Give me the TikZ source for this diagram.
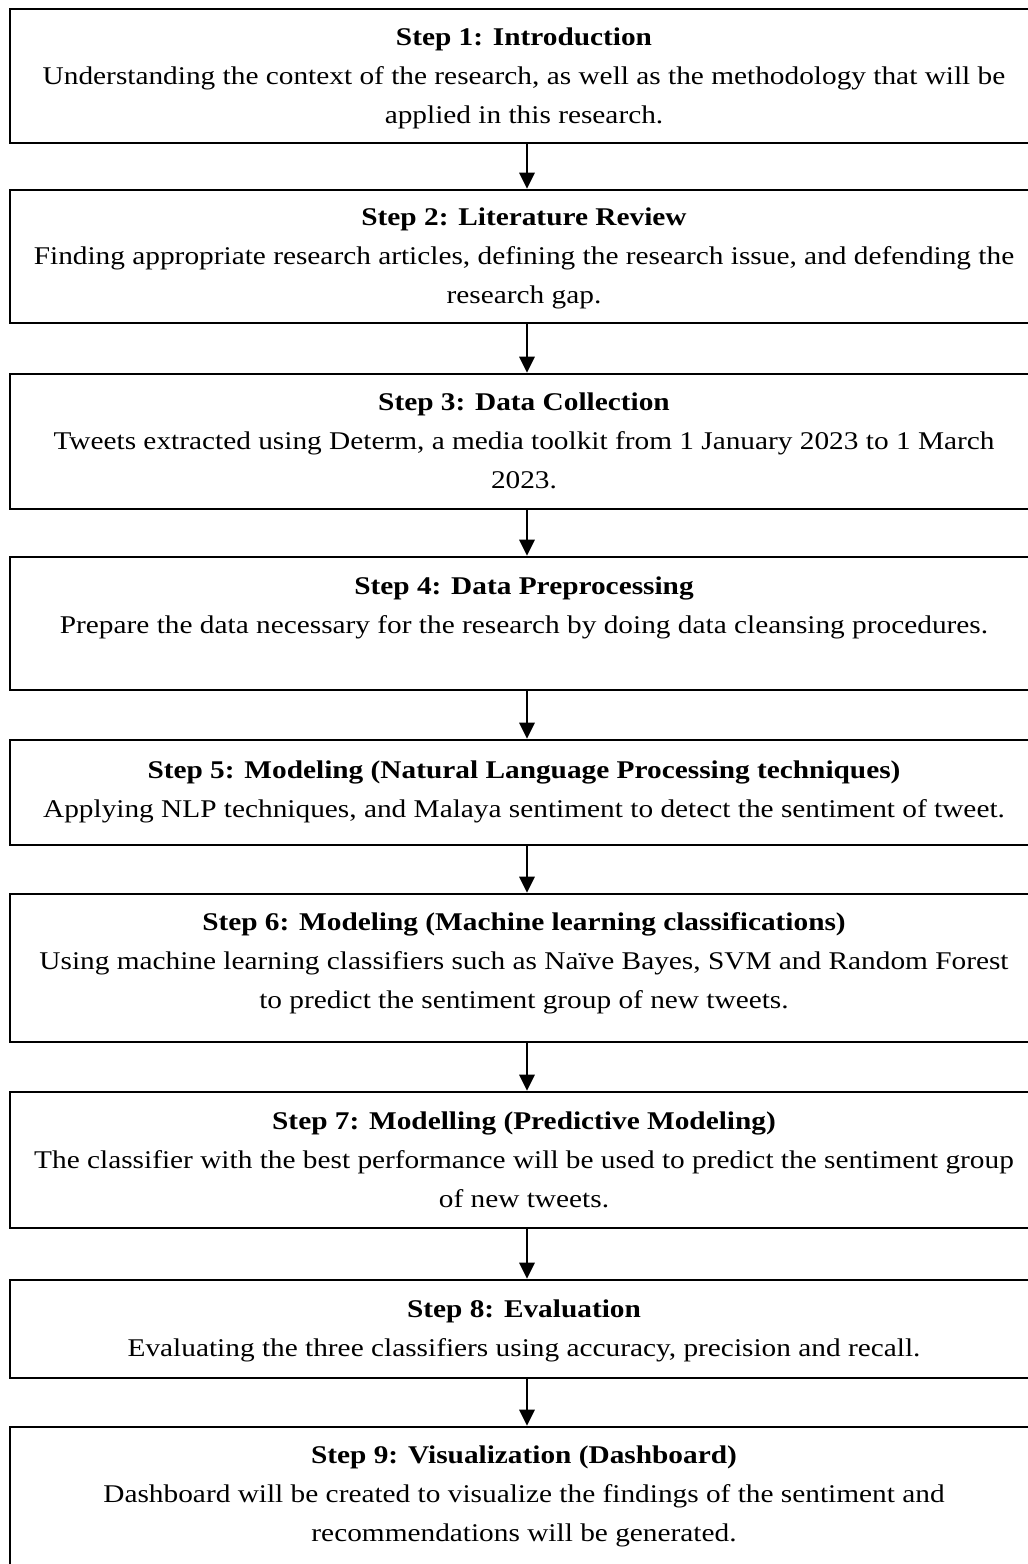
\documentclass[tikz,border=0pt]{standalone}
\usepackage{fontspec}
\setmainfont[FakeStretch=1.15]{Liberation Serif}
\usetikzlibrary{arrows.meta}
\tikzset{
  stepbox/.style={draw=black, line width=2.6pt, minimum width=1034pt, inner sep=0pt, fill=none},
  steptext/.style={anchor=base, align=center, inner sep=0pt, font=\fontsize{25.5}{39}\selectfont},
  arr/.style={line width=2.8pt, -{Triangle[length=16pt,width=15pt]}}
}
\begin{document}
\begin{tikzpicture}[x=1pt,y=-1pt]
\useasboundingbox (0,0) rectangle (1028,1564);
\node[stepbox, minimum height=134pt] (b1) at (527,76) {};
\node[stepbox, minimum height=133pt] (b2) at (527,256.5) {};
\node[stepbox, minimum height=135pt] (b3) at (527,441.5) {};
\node[stepbox, minimum height=133pt] (b4) at (527,623.5) {};
\node[stepbox, minimum height=105pt] (b5) at (527,792.5) {};
\node[stepbox, minimum height=148pt] (b6) at (527,968) {};
\node[stepbox, minimum height=136pt] (b7) at (527,1160) {};
\node[stepbox, minimum height=98pt] (b8) at (527,1329) {};
\node[stepbox, minimum height=160pt] (b9) at (527,1507) {};

\node[steptext] (t1) at (524,123) {\textbf{Step 1: Introduction}\\Understanding the context of the research, as well as the methodology that will be\\applied in this research.};
\node[steptext] (t2) at (524,303) {\textbf{Step 2: Literature Review}\\Finding appropriate research articles, defining the research issue, and defending the\\research gap.};
\node[steptext] (t3) at (524,488) {\textbf{Step 3: Data Collection}\\Tweets extracted using Determ, a media toolkit from 1 January 2023 to 1 March\\2023.};
\node[steptext] (t4) at (524,633) {\textbf{Step 4: Data Preprocessing}\\Prepare the data necessary for the research by doing data cleansing procedures.};
\node[steptext] (t5) at (524,817) {\textbf{Step 5: Modeling (Natural Language Processing techniques)}\\Applying NLP techniques, and Malaya sentiment to detect the sentiment of tweet.};
\node[steptext] (t6) at (524,1008) {\textbf{Step 6: Modeling (Machine learning classifications)}\\Using machine learning classifiers such as Naïve Bayes, SVM and Random Forest\\to predict the sentiment group of new tweets.};
\node[steptext] (t7) at (524,1207) {\textbf{Step 7: Modelling (Predictive Modeling)}\\The classifier with the best performance will be used to predict the sentiment group\\of new tweets.};
\node[steptext] (t8) at (524,1356) {\textbf{Step 8: Evaluation}\\Evaluating the three classifiers using accuracy, precision and recall.};
\node[steptext] (t9) at (524,1541) {\textbf{Step 9: Visualization (Dashboard)}\\Dashboard will be created to visualize the findings of the sentiment and\\recommendations will be generated.};

\draw[arr] (b1.south) -- (b2.north);
\draw[arr] (b2.south) -- (b3.north);
\draw[arr] (b3.south) -- (b4.north);
\draw[arr] (b4.south) -- (b5.north);
\draw[arr] (b5.south) -- (b6.north);
\draw[arr] (b6.south) -- (b7.north);
\draw[arr] (b7.south) -- (b8.north);
\draw[arr] (b8.south) -- (b9.north);
\end{tikzpicture}
\end{document}
